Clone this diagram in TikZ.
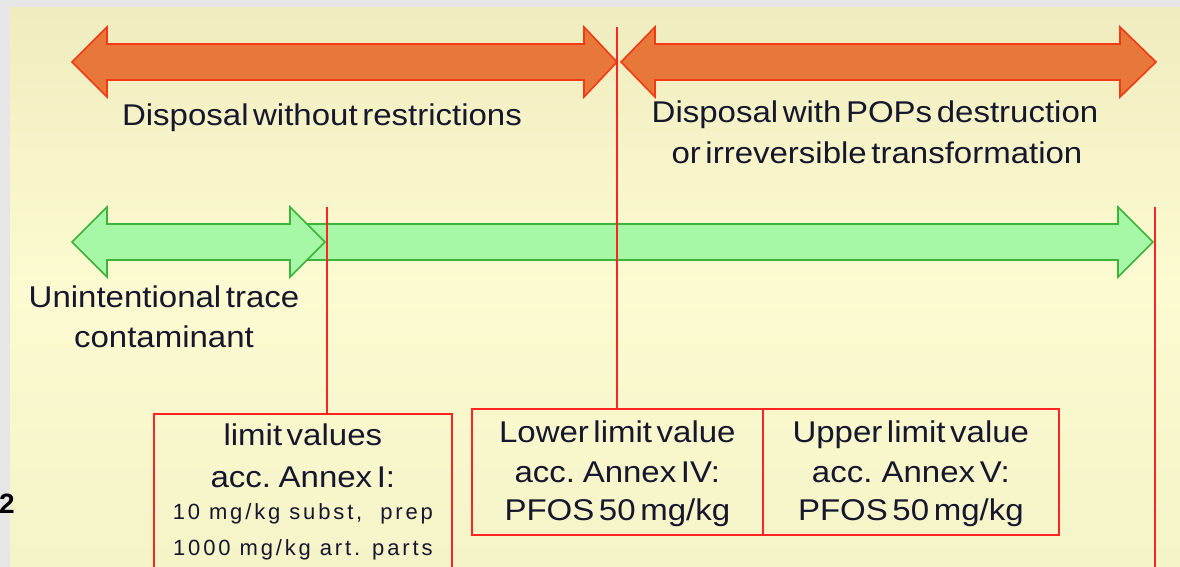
\documentclass[tikz,border=0pt]{standalone}
\usepackage{fontspec}
\setmainfont{Liberation Sans}
\newfontfamily\lblfont{Liberation Sans}[FakeStretch=1.1,WordSpace=0.5]
\newfontfamily\smlfont{Liberation Sans}[LetterSpace=13]
\definecolor{pagegray}{HTML}{E6E6E6}
\definecolor{bgtop}{HTML}{EFEDBF}
\definecolor{bgmid}{HTML}{FCFAD0}
\definecolor{bgbot}{HTML}{F5F3C8}
\definecolor{orangefill}{HTML}{E8773A}
\definecolor{orangeedge}{HTML}{F23A14}
\definecolor{greenfill}{HTML}{A6F7A6}
\definecolor{greenedge}{HTML}{3CB43C}
\definecolor{redcol}{HTML}{FF2424}
\definecolor{textcol}{HTML}{16162C}
\tikzset{
  orangearrow/.style={fill=orangefill, draw=orangeedge, line width=1.6pt, line join=miter},
  greenarrow/.style={fill=greenfill, draw=greenedge, line width=1.6pt, line join=miter},
  redline/.style={draw=redcol, line width=1.7pt},
  limitbox/.style={draw=redcol, line width=1.7pt, inner sep=0pt, anchor=north west},
  lbl/.style={font=\lblfont\fontsize{30}{36}\selectfont, text=textcol, inner sep=0pt, anchor=base},
  smalllbl/.style={font=\smlfont\fontsize{22}{26}\selectfont, text=textcol, inner sep=0pt, anchor=base}
}
\begin{document}
\begin{tikzpicture}[x=1pt,y=-1pt]
\useasboundingbox (0,0) rectangle (1180,567);
\fill[pagegray] (0,0) rectangle (1180,567);
\shade[top color=bgtop, bottom color=bgbot, middle color=bgmid] (10,8) rectangle (1180,567);

% green arrows
\draw[greenarrow] (305,224) -- (1118,224) -- (1118,207) -- (1153,242) -- (1118,277) -- (1118,260) -- (305,260) -- cycle;
\draw[greenarrow] (72,242) -- (107,207) -- (107,224) -- (290,224) -- (290,207) -- (325,242) -- (290,277) -- (290,260) -- (107,260) -- (107,277) -- cycle;

% orange arrows
\draw[orangearrow] (72,62) -- (107,27) -- (107,44) -- (584,44) -- (584,27) -- (617,62) -- (584,97) -- (584,80) -- (107,80) -- (107,97) -- cycle;
\draw[orangearrow] (621,62) -- (655,27) -- (655,44) -- (1120,44) -- (1120,27) -- (1156,62) -- (1120,97) -- (1120,80) -- (655,80) -- (655,97) -- cycle;

% boxes
\node[limitbox, minimum width=298pt, minimum height=170pt] (lim) at (153,413) {};
\node[limitbox, minimum width=291pt, minimum height=126pt] (lower) at (471,408) {};
\node[limitbox, minimum width=296pt, minimum height=126pt] (upper) at (762,408) {};

% red vertical lines
\coordinate (l1top) at (327,207);
\coordinate (l2top) at (617,27);
\coordinate (l3top) at (1155,207);
\coordinate (l3bot) at (1155,567);
\draw[redline] (l1top) -- (l1top |- lim.north);
\draw[redline] (l2top) -- (l2top |- lower.north);
\draw[redline] (l3top) -- (l3bot);

% labels
\node[lbl] (t1) at (322,125) {Disposal without restrictions};
\node[lbl] (t2a) at (875,123) {Disposal with POPs destruction};
\node[lbl] (t2b) at (877,163) {or irreversible transformation};
\node[lbl] (t3a) at (164,307) {Unintentional trace};
\node[lbl] (t3b) at (164,347) {contaminant};

\node[lbl] (la) at (lim.north |- 0,445) {limit values};
\node[lbl] (lb) at (lim.north |- 0,487) {acc. Annex I:};
\node[smalllbl] (lc) at (lim.north |- 0,519) {10 mg/kg subst,\ \ prep};
\node[smalllbl] (ld) at (lim.north |- 0,555) {1000 mg/kg art. parts};

\node[lbl] (wa) at (lower.north |- 0,442) {Lower limit value};
\node[lbl] (wb) at (lower.north |- 0,482) {acc. Annex IV:};
\node[lbl] (wc) at (lower.north |- 0,520) {PFOS 50 mg/kg};

\node[lbl] (ua) at (upper.north |- 0,442) {Upper limit value};
\node[lbl] (ub) at (upper.north |- 0,482) {acc.\ \ Annex V:};
\node[lbl] (uc) at (upper.north |- 0,520) {PFOS 50 mg/kg};

\node[font=\fontsize{28}{30}\selectfont\bfseries, text=black, inner sep=0pt, anchor=base west] (pg) at (-1,513) {2};
\end{tikzpicture}
\end{document}
